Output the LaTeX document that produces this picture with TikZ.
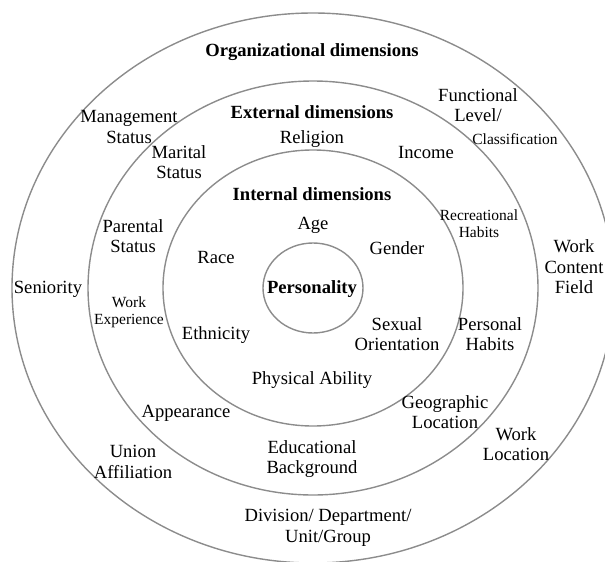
\documentclass[tikz,border=0pt]{standalone}
\usepackage{fontspec}
\setmainfont{Liberation Serif}
\usepackage{tikz}
\usetikzlibrary{positioning}

\begin{document}
\begin{tikzpicture}[
  x=1pt, y=-1pt,
  ring/.style = {draw=black!45, line width=1.4pt},
  lbl/.style  = {font=\fontsize{18.6}{20.5}\selectfont, inner sep=0pt, align=center},
  sml/.style  = {font=\fontsize{15.5}{17}\selectfont, inner sep=0pt, align=center},
  hdr/.style  = {font=\fontsize{18.6}{20.5}\selectfont\bfseries, inner sep=0pt, align=center},
]
  \useasboundingbox (0,0) rectangle (605,562);
  \clip (0,0) rectangle (605,562);

  % rings
  \coordinate (c) at (313,288);
  \draw[ring] (c) ellipse [x radius=301, y radius=275];
  \draw[ring] (c) ellipse [x radius=225, y radius=207];
  \draw[ring] (c) ellipse [x radius=150, y radius=138];
  \draw[ring] (c) ellipse [x radius=50,  y radius=45];

  % core
  \node[hdr] (personality) at (312,289) {Personality};

  % internal dimensions
  \node[hdr] (internal)    at (312,194) {Internal dimensions};
  \node[lbl] (age)         at (313,225) {Age};
  \node[lbl] (race)        at (216,257) {Race};
  \node[lbl] (gender)      at (397,248) {Gender};
  \node[lbl] (ethnicity)   at (216,335) {Ethnicity};
  \node[lbl] (sexual)      at (397,334) {Sexual\\Orientation};
  \node[lbl] (physical)    at (312,380) {Physical Ability};

  % external dimensions
  \node[hdr] (external)    at (312,112) {External dimensions};
  \node[lbl] (religion)    at (312,139) {Religion};
  \node[lbl] (marital)     at (179,162) {Marital\\Status};
  \node[lbl] (income)      at (426,152) {Income};
  \node[lbl] (parental)    at (133,236) {Parental\\Status};
  \node[sml] (recreation)  at (479,224) {Recreational\\Habits};
  \node[sml] (workexp)     at (129,312) {Work\\Experience};
  \node[lbl] (personal)    at (490,334) {Personal\\Habits};
  \node[lbl] (appearance)  at (186,413) {Appearance};
  \node[lbl] (geographic)  at (445,412) {Geographic\\Location};
  \node[lbl] (education)   at (312,459) {Educational\\Background};

  % organizational dimensions
  \node[hdr] (organizational) at (312,52) {Organizational dimensions};
  \node[lbl] (management)  at (129,127) {Management\\Status};
  \node[lbl] (functional)  at (478,105) {Functional\\Level/};
  \node[sml] (classification) at (515,139) {Classification};
  \node[lbl] (seniority)   at (48,289)  {Seniority};
  \node[lbl] (workcontent) at (574,267) {Work\\Content\\Field};
  \node[lbl] (union)       at (133,462) {Union\\Affiliation};
  \node[lbl] (worklocation) at (516,444) {Work\\Location};
  \node[lbl] (division)    at (328,528) {Division/ Department/\\Unit/Group};
\end{tikzpicture}
\end{document}
